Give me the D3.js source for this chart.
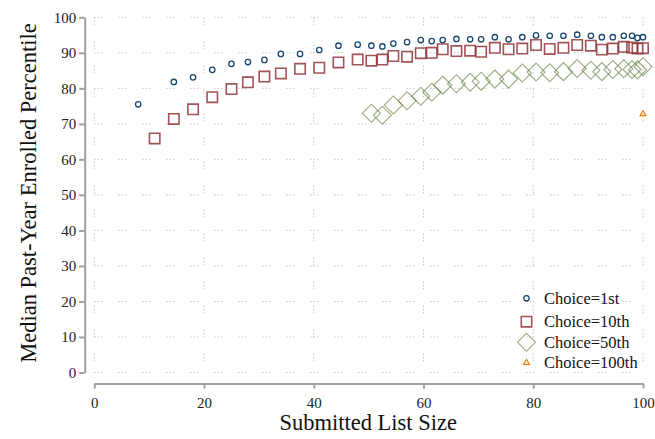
<!DOCTYPE html>
<html>
<head>
<meta charset="utf-8">
<script src="https://cdn.jsdelivr.net/npm/d3@7"></script>
<style>
  body { margin: 0; background: #fff; }
  svg { display: block; font-family: "Liberation Serif", "Times New Roman", serif; }
</style>
</head>
<body>
<script>
// list sizes and median percentiles
const firstX = [8, 14.5, 18, 21.5, 25, 28, 31, 34, 37.5, 41, 44.5, 48, 50.5, 52.5, 54.5, 57, 59.5, 61.5, 63.5, 66, 68.5, 70.5, 73, 75.5, 78, 80.5, 83, 85.5, 88, 90.5, 92.5, 94.5, 96.5, 98, 99, 100];
const firstY = [75.5, 81.8, 83.1, 85.2, 86.9, 87.4, 88.0, 89.7, 89.7, 90.8, 92.0, 92.3, 92.0, 91.8, 92.6, 93.0, 93.6, 93.3, 93.6, 93.9, 93.8, 93.8, 94.4, 93.8, 94.4, 94.9, 94.8, 94.8, 95.1, 94.8, 94.4, 94.4, 94.8, 94.8, 94.2, 94.4];

const tenthX = [11, 14.5, 18, 21.5, 25, 28, 31, 34, 37.5, 41, 44.5, 48, 50.5, 52.5, 54.5, 57, 59.5, 61.5, 63.5, 66, 68.5, 70.5, 73, 75.5, 78, 80.5, 83, 85.5, 88, 90.5, 92.5, 94.5, 96.5, 98, 99, 100];
const tenthY = [65.9, 71.4, 74.1, 77.5, 79.8, 81.7, 83.3, 84.2, 85.5, 85.8, 87.3, 88.1, 87.8, 88.1, 89.1, 88.9, 89.9, 90.0, 91.0, 90.5, 90.6, 90.3, 91.4, 91.0, 91.2, 92.2, 91.1, 91.4, 92.2, 92.0, 90.9, 91.2, 91.7, 91.5, 91.2, 91.3];

const fiftiethX = [50.5, 52.5, 54.5, 57, 59.5, 61.5, 63.5, 66, 68.5, 70.5, 73, 75.5, 78, 80.5, 83, 85.5, 88, 90.5, 92.5, 94.5, 96.5, 98, 99, 100];
const fiftiethY = [73.0, 72.4, 75.3, 76.5, 77.8, 78.9, 80.9, 81.3, 81.7, 82.0, 82.6, 82.6, 84.3, 84.6, 84.4, 84.7, 85.6, 85.1, 84.7, 85.3, 85.5, 85.3, 85.2, 86.1];

const hundredthX = [100];
const hundredthY = [72.8];

const xTicks = [0, 20, 40, 60, 80, 100];
const yTicks = [0, 10, 20, 30, 40, 50, 60, 70, 80, 90, 100];
const seriesNames = ["Choice=1st", "Choice=10th", "Choice=50th", "Choice=100th"];

const width = 655, height = 439;

const x = d3.scaleLinear().domain([0, 100]).range([94.3, 643]);
const y = d3.scaleLinear().domain([0, 100]).range([372.5, 17.3]);

const svg = d3.select('body').append('svg')
    .attr('width', width)
    .attr('height', height);

// faint dotted grid
const gridDash = "1.5,1.8,1.5,1.8,1.5,15.9";
svg.append('g').selectAll('line')
    .data(yTicks)
    .join('line')
    .attr('x1', x(0)).attr('x2', x(100))
    .attr('y1', d => y(d)).attr('y2', d => y(d))
    .attr('stroke', '#c6c6c6')
    .attr('stroke-dasharray', gridDash);

svg.append('g').selectAll('line')
    .data(xTicks)
    .join('line')
    .attr('y1', y(100)).attr('y2', y(0))
    .attr('x1', d => x(d)).attr('x2', d => x(d))
    .attr('stroke', '#c6c6c6')
    .attr('stroke-dasharray', gridDash);

// axes
const yAxis = svg.append('g')
    .attr('transform', 'translate(84.7,0)')
    .call(d3.axisLeft(y).tickValues(yTicks).tickSize(5.5).tickSizeOuter(0).tickPadding(3));

const xAxis = svg.append('g')
    .attr('transform', 'translate(0,383.5)')
    .call(d3.axisBottom(x).tickValues(xTicks).tickSize(5).tickSizeOuter(0).tickPadding(9));

[xAxis, yAxis].forEach(a => {
  a.select('.domain').attr('stroke', '#a0a0a0').attr('stroke-width', 2);
  a.selectAll('.tick line').attr('stroke', '#a0a0a0').attr('stroke-width', 2);
  a.selectAll('.tick text')
    .attr('fill', '#222')
    .style('font-size', '15px')
    .style('font-family', '"Liberation Serif", serif');
});

// axis titles
svg.append('text')
    .attr('x', (x(0) + x(100)) / 2 - 0.5)
    .attr('y', 430)
    .attr('text-anchor', 'middle')
    .attr('fill', '#111')
    .style('font-size', '22.5px')
    .text('Submitted List Size');

svg.append('text')
    .attr('transform', 'translate(36,193) rotate(-90)')
    .attr('text-anchor', 'middle')
    .attr('fill', '#111')
    .style('font-size', '22.5px')
    .text('Median Past-Year Enrolled Percentile');

// marker shapes
const circleSym = d3.symbol(d3.symbolCircle, Math.PI * 2.7 * 2.7);
const squareSym = d3.symbol(d3.symbolSquare, 108);
const diamondSym = d3.symbol(d3.symbolSquare, 162);
const triSym = d3.symbol(d3.symbolTriangle, 15);

const styles = [
  {sym: circleSym, rot: 0, stroke: '#1a476f', sw: 1.3, op: 1},
  {sym: squareSym, rot: 0, stroke: '#90353b', sw: 1.6, op: 0.85},
  {sym: diamondSym, rot: 45, stroke: '#55752f', sw: 1.1, op: 0.6},
  {sym: triSym, rot: 0, stroke: '#e37e00', sw: 1.1, op: 1}
];

const series = [
  d3.zip(firstX, firstY),
  d3.zip(tenthX, tenthY),
  d3.zip(fiftiethX, fiftiethY),
  d3.zip(hundredthX, hundredthY)
];

series.forEach((pts, i) => {
  const s = styles[i];
  svg.append('g').selectAll('path')
    .data(pts)
    .join('path')
    .attr('d', s.sym)
    .attr('transform', d => `translate(${x(d[0])},${y(d[1])}) rotate(${s.rot})`)
    .attr('fill', 'none')
    .attr('stroke', s.stroke)
    .attr('stroke-width', s.sw)
    .attr('stroke-opacity', s.op);
});

// legend
const legendY = [298.3, 321.7, 342.3, 362.7];
const legend = svg.append('g');
seriesNames.forEach((name, i) => {
  const s = styles[i];
  legend.append('path')
    .attr('d', s.sym)
    .attr('transform', `translate(526.5,${legendY[i]}) rotate(${s.rot})`)
    .attr('fill', 'none')
    .attr('stroke', s.stroke)
    .attr('stroke-width', s.sw)
    .attr('stroke-opacity', s.op);
  legend.append('text')
    .attr('x', 544)
    .attr('y', legendY[i])
    .attr('dy', '0.35em')
    .attr('fill', '#111')
    .style('font-size', '16.5px')
    .text(name);
});
</script>
</body>
</html>
